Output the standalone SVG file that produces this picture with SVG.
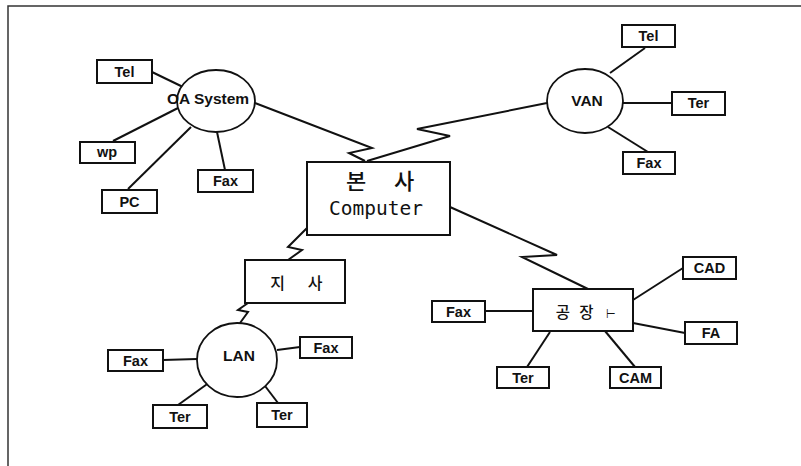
<svg xmlns="http://www.w3.org/2000/svg" width="801" height="466" viewBox="0 0 801 466">
<style>
.frame{fill:none;stroke:#333;stroke-width:1.5}
.box{fill:#fff;stroke:#111;stroke-width:2}
.hub{fill:#fff;stroke:#111;stroke-width:1.8}
.ln{fill:none;stroke:#111;stroke-width:2;stroke-linejoin:miter}
.lbl{font-family:"Liberation Sans",Arial,sans-serif;font-weight:bold;font-size:14.5px;fill:#111;text-anchor:middle}
.hubt{font-family:"Liberation Sans",Arial,sans-serif;font-weight:bold;font-size:15.5px;fill:#111;text-anchor:middle}
.kr{font-family:"Noto Sans CJK KR","Liberation Sans",sans-serif;font-weight:500;fill:#111;text-anchor:middle}
.mono{font-family:"DejaVu Sans Mono","Liberation Mono",monospace;font-size:19.5px;fill:#111;text-anchor:middle}
</style>
<rect width="801" height="466" fill="#fff"/>
<path class="frame" d="M8,466 V6 H801"/>
<g id="connectors">
  <polyline class="ln" points="255,103 372,148 349,153 365,161"/>
  <polyline class="ln" points="547,103 417,129 450,136 367,161"/>
  <polyline class="ln" points="307,228 288,247 302,250 288,260"/>
  <polyline class="ln" points="248,303 238,310 248,312 240,323"/>
  <polyline class="ln" points="450,207 557,255 522,257 588,289"/>
  <line class="ln" x1="152" y1="72" x2="183" y2="87"/>
  <line class="ln" x1="113" y1="141" x2="178" y2="108"/>
  <line class="ln" x1="128" y1="189" x2="191" y2="127"/>
  <line class="ln" x1="225" y1="170" x2="217" y2="132"/>
  <line class="ln" x1="645" y1="48" x2="610" y2="73"/>
  <line class="ln" x1="623" y1="103" x2="672" y2="103"/>
  <line class="ln" x1="608" y1="127" x2="648" y2="152"/>
  <line class="ln" x1="163" y1="360" x2="197" y2="359"/>
  <line class="ln" x1="277" y1="350" x2="300" y2="347"/>
  <line class="ln" x1="210" y1="382" x2="178" y2="405"/>
  <line class="ln" x1="262" y1="382" x2="278" y2="403"/>
  <line class="ln" x1="633" y1="300" x2="683" y2="268"/>
  <line class="ln" x1="633" y1="323" x2="685" y2="333"/>
  <line class="ln" x1="485" y1="311" x2="533" y2="311"/>
  <line class="ln" x1="550" y1="332" x2="527" y2="367"/>
  <line class="ln" x1="605" y1="331" x2="635" y2="367"/>
</g>
<g id="oa-system"><ellipse class="hub" cx="216" cy="101" rx="39" ry="31"/><text class="hubt" x="208" y="104">OA System</text></g>
<g id="oa-tel"><rect class="box" x="97" y="60" width="55" height="23"/><text class="lbl" x="124.5" y="77">Tel</text></g>
<g id="oa-wp"><rect class="box" x="80" y="142" width="55" height="21"/><text class="lbl" x="107" y="157">wp</text></g>
<g id="oa-pc"><rect class="box" x="102" y="190" width="55" height="23"/><text class="lbl" x="129.5" y="207">PC</text></g>
<g id="oa-fax"><rect class="box" x="198" y="170" width="55" height="22"/><text class="lbl" x="225.5" y="186">Fax</text></g>
<g id="van"><ellipse class="hub" cx="585" cy="101" rx="38" ry="32"/><text class="hubt" x="587" y="106">VAN</text></g>
<g id="van-tel"><rect class="box" x="622" y="25" width="53" height="22"/><text class="lbl" x="648.5" y="41">Tel</text></g>
<g id="van-ter"><rect class="box" x="672" y="92" width="53" height="23"/><text class="lbl" x="698.5" y="108">Ter</text></g>
<g id="van-fax"><rect class="box" x="623" y="152" width="52" height="22"/><text class="lbl" x="649" y="168">Fax</text></g>
<g id="computer"><rect class="box" x="307" y="162" width="143" height="73"/>
  <text class="kr" font-size="22" y="189"><tspan x="356">본</tspan><tspan x="404">사</tspan></text>
  <text class="mono" x="376" y="215">Computer</text></g>
<g id="branch"><rect class="box" x="245" y="260" width="100" height="43"/>
  <text class="kr" font-size="16" y="289"><tspan x="277.5">지</tspan><tspan x="315">사</tspan></text></g>
<g id="lan"><ellipse class="hub" cx="237" cy="360" rx="40" ry="37"/><text class="hubt" x="239" y="361">LAN</text></g>
<g id="lan-fax1"><rect class="box" x="108" y="350" width="55" height="21"/><text class="lbl" x="135.5" y="366">Fax</text></g>
<g id="lan-fax2"><rect class="box" x="300" y="337" width="52" height="21"/><text class="lbl" x="326" y="353">Fax</text></g>
<g id="lan-ter1"><rect class="box" x="153" y="405" width="54" height="23"/><text class="lbl" x="180" y="422">Ter</text></g>
<g id="lan-ter2"><rect class="box" x="257" y="403" width="50" height="24"/><text class="lbl" x="282" y="420">Ter</text></g>
<g id="factory"><rect class="box" x="533" y="289" width="100" height="42"/>
  <text class="kr" font-size="15.5" y="318"><tspan x="563">공</tspan><tspan x="586.5">장</tspan><tspan x="611" font-size="11">⊢</tspan></text></g>
<g id="f-cad"><rect class="box" x="683" y="257" width="53" height="22"/><text class="lbl" x="709.5" y="273">CAD</text></g>
<g id="f-fa"><rect class="box" x="685" y="322" width="52" height="22"/><text class="lbl" x="711" y="338">FA</text></g>
<g id="f-fax"><rect class="box" x="432" y="301" width="53" height="21"/><text class="lbl" x="458.5" y="317">Fax</text></g>
<g id="f-ter"><rect class="box" x="497" y="367" width="52" height="21"/><text class="lbl" x="523" y="383">Ter</text></g>
<g id="f-cam"><rect class="box" x="610" y="367" width="51" height="21"/><text class="lbl" x="635.5" y="383">CAM</text></g>
</svg>
